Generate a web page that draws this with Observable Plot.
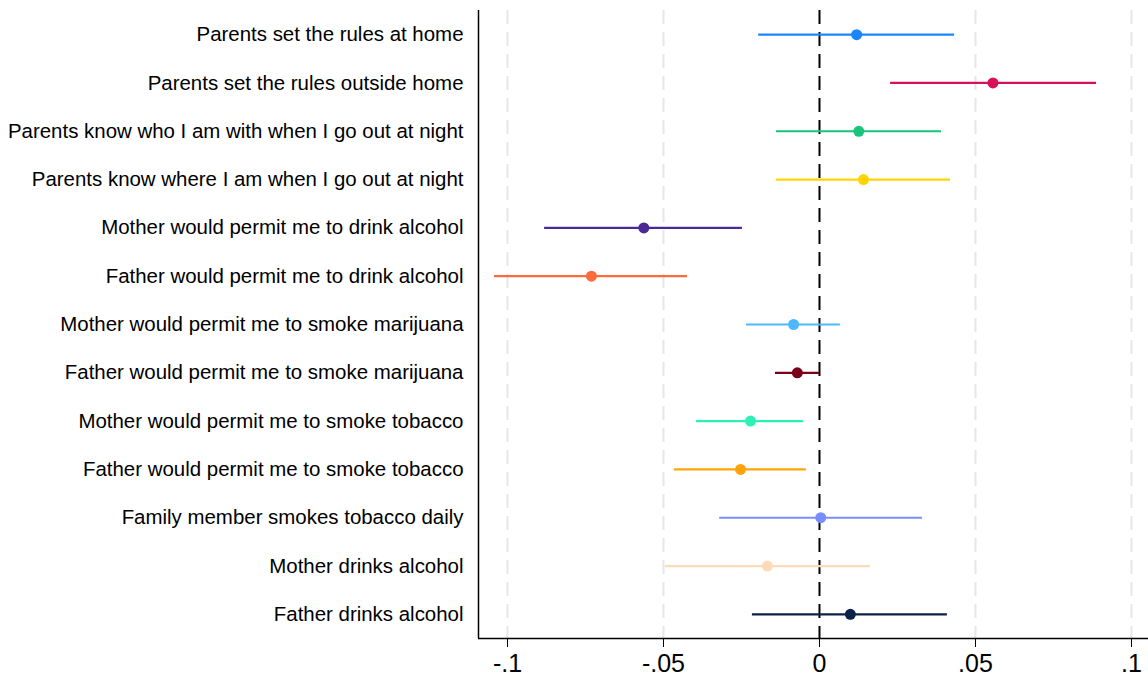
<!DOCTYPE html>
<html>
<head>
<meta charset="utf-8">
<script src="https://cdn.jsdelivr.net/npm/d3@7"></script>
<script src="https://cdn.jsdelivr.net/npm/@observablehq/plot@0.6"></script>
<style>
  html, body { margin: 0; padding: 0; background: #fff; }
  #chart svg { display: block; }
</style>
</head>
<body>
<div id="chart"></div>
<script>
const labels = [
  "Parents set the rules at home",
  "Parents set the rules outside home",
  "Parents know who I am with when I go out at night",
  "Parents know where I am when I go out at night",
  "Mother would permit me to drink alcohol",
  "Father would permit me to drink alcohol",
  "Mother would permit me to smoke marijuana",
  "Father would permit me to smoke marijuana",
  "Mother would permit me to smoke tobacco",
  "Father would permit me to smoke tobacco",
  "Family member smokes tobacco daily",
  "Mother drinks alcohol",
  "Father drinks alcohol"
];
const estimates = [0.0119, 0.0556, 0.0126, 0.0141, -0.0563, -0.0731, -0.0083, -0.0071, -0.0221, -0.0253, 0.0004, -0.0167, 0.0099];
const lower     = [-0.0195, 0.0228, -0.0138, -0.0138, -0.0881, -0.1042, -0.0234, -0.0141, -0.0394, -0.0465, -0.0320, -0.0494, -0.0215];
const upper     = [0.0433, 0.0888, 0.0391, 0.0420, -0.0247, -0.0423, 0.0067, 0.0000, -0.0051, -0.0042, 0.0330, 0.0163, 0.0410];
const colors = ["#1a85ff", "#d41159", "#1bc47d", "#ffd400", "#4b2a98", "#ff6a3a", "#4db8ff", "#7a0019", "#2ef0b6", "#ffa30a", "#7a8dff", "#ffdab8", "#0c2246"];

const xTicks = [-0.1, -0.05, 0, 0.05, 0.1];
const xTickLabels = ["-.1", "-.05", "0", ".05", ".1"];
const gridTicks = [-0.1, -0.05, 0.05, 0.1];
const xDomain = [-0.10929, 0.10545];

const rows = labels.map((label, i) => ({
  i, label, est: estimates[i], lo: lower[i], hi: upper[i], color: colors[i]
}));

const chart = Plot.plot({
  width: 1148,
  height: 678,
  marginLeft: 478,
  marginRight: 0,
  marginTop: 10,
  marginBottom: 40,
  style: { fontFamily: "'Liberation Sans', Arial, sans-serif", color: "#000", background: "#fff" },
  x: { domain: xDomain },
  y: { domain: [labels.length - 0.5, -0.5] },
  color: { type: "identity" },
  marks: [
    Plot.ruleX(gridTicks, { stroke: "#e6e6e6", strokeWidth: 2, strokeDasharray: "14,8" }),
    Plot.ruleX([0], { stroke: "#000", strokeWidth: 2, strokeDasharray: "14,8" }),
    Plot.ruleY(rows, { y: "i", x1: "lo", x2: "hi", stroke: "color", strokeWidth: 2.2 }),
    Plot.dot(rows, { x: "est", y: "i", fill: "color", r: 5.5 }),
    Plot.ruleX([xDomain[0]], { stroke: "#000", strokeWidth: 1.5 }),
    Plot.ruleY([labels.length - 0.5], { stroke: "#000", strokeWidth: 1.5 }),
    Plot.axisX({
      ticks: xTicks,
      tickFormat: d => xTickLabels[xTicks.indexOf(d)],
      tickSize: 9,
      tickPadding: 7,
      fontSize: 25,
      label: null,
      stroke: "#000"
    }),
    Plot.axisY({
      ticks: rows.map(d => d.i),
      tickFormat: i => labels[i],
      tickSize: 0,
      tickPadding: 15,
      fontSize: 20.45,
      label: null
    })
  ]
});
document.getElementById("chart").appendChild(chart);
</script>
</body>
</html>
